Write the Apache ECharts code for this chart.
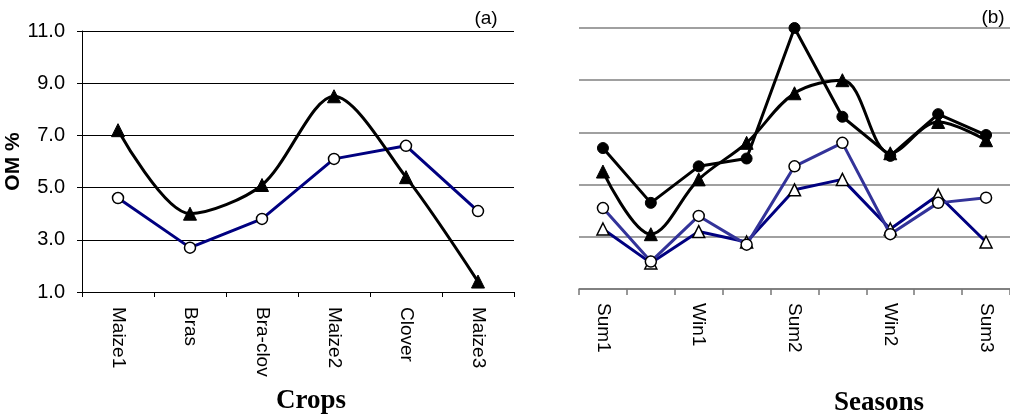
<!DOCTYPE html>
<html>
<head>
<meta charset="utf-8">
<script src="https://cdn.jsdelivr.net/npm/echarts@6/dist/echarts.min.js"></script>
<style>
  html, body { margin: 0; padding: 0; background: #ffffff; }
  #chart { width: 1010px; height: 415px; }
</style>
</head>
<body>
<div id="chart"></div>
<script>
// Panel (a): organic matter by crop
const crops = ['Maize1', 'Bras', 'Bra-clov', 'Maize2', 'Clover', 'Maize3'];
const cropTriangle = [7.2, 4.0, 5.1, 8.5, 5.4, 1.4];
const cropCircle = [4.6, 2.7, 3.8, 6.1, 6.6, 4.1];

// Panel (b): organic matter by season (only every other season is labelled)
const seasons = ['Sum1', '', 'Win1', '', 'Sum2', '', 'Win2', '', 'Sum3'];
const seasonDot = [6.4, 4.3, 5.7, 6.0, 11.0, 7.6, 6.1, 7.7, 6.9];
const seasonTriangle = [5.5, 3.1, 5.2, 6.6, 8.5, 9.0, 6.2, 7.4, 6.7];
const seasonOpenTriangle = [3.3, 2.0, 3.2, 2.8, 4.8, 5.2, 3.3, 4.6, 2.8];
const seasonCircle = [4.1, 2.05, 3.8, 2.7, 5.7, 6.6, 3.1, 4.3, 4.5];

const yTicks = { min: 1, max: 11, interval: 2 };
const FONT = 'Liberation Sans, Arial, sans-serif';
const SERIF = 'Liberation Serif, Times New Roman, serif';

const chart = echarts.init(document.getElementById('chart'), null, { renderer: 'canvas' });

const lineSeries = (xi, data, opt) => Object.assign({
  type: 'line',
  xAxisIndex: xi,
  yAxisIndex: xi,
  data: data,
  animation: false,
  silent: true
}, opt);

chart.setOption({
  backgroundColor: '#ffffff',
  animation: false,
  grid: [
    { left: 82, top: 31, width: 432, height: 261 },
    { left: 579, top: 28, width: 441, height: 261 }
  ],
  xAxis: [
    {
      type: 'category', gridIndex: 0, data: crops, boundaryGap: true,
      axisLine: { lineStyle: { color: '#000000', width: 1 } },
      axisTick: { show: true, interval: 0, length: 5, lineStyle: { color: '#000000' } },
      axisLabel: { interval: 0, rotate: -90, margin: 15, color: '#000000', fontSize: 19, fontFamily: FONT }
    },
    {
      type: 'category', gridIndex: 1, data: seasons, boundaryGap: true,
      axisLine: { lineStyle: { color: '#777777', width: 1.5 } },
      axisTick: { show: true, interval: 0, length: 6, lineStyle: { color: '#777777', width: 1.5 } },
      axisLabel: { interval: 0, rotate: -90, margin: 14, color: '#000000', fontSize: 19, fontFamily: FONT }
    }
  ],
  yAxis: [
    {
      type: 'value', gridIndex: 0, min: yTicks.min, max: yTicks.max, interval: yTicks.interval,
      name: 'OM %', nameLocation: 'middle', nameRotate: 90, nameGap: 53,
      nameTextStyle: { color: '#000000', fontSize: 21, fontWeight: 'bold', fontFamily: FONT },
      axisLine: { show: true, lineStyle: { color: '#000000', width: 1 } },
      axisTick: { show: true, length: 5, lineStyle: { color: '#000000' } },
      axisLabel: { margin: 17, color: '#000000', fontSize: 20, fontFamily: FONT, formatter: v => v.toFixed(1) },
      splitLine: { show: true, lineStyle: { color: '#000000', width: 1 } }
    },
    {
      type: 'value', gridIndex: 1, min: yTicks.min, max: yTicks.max, interval: yTicks.interval,
      axisLine: { show: false },
      axisTick: { show: false },
      axisLabel: { show: false },
      splitLine: { show: true, lineStyle: { color: '#808080', width: 1.5 } }
    }
  ],
  graphic: [
    { type: 'text', x: 486, y: 19, style: { text: '(a)', fontSize: 19, fontFamily: FONT, fill: '#000000', align: 'center', verticalAlign: 'middle' } },
    { type: 'text', x: 993, y: 18, style: { text: '(b)', fontSize: 19, fontFamily: FONT, fill: '#000000', align: 'center', verticalAlign: 'middle' } },
    { type: 'text', x: 311, y: 401, style: { text: 'Crops', fontSize: 27, fontWeight: 'bold', fontFamily: SERIF, fill: '#000000', align: 'center', verticalAlign: 'middle' } },
    { type: 'text', x: 879, y: 403, style: { text: 'Seasons', fontSize: 27, fontWeight: 'bold', fontFamily: SERIF, fill: '#000000', align: 'center', verticalAlign: 'middle' } }
  ],
  series: [
    lineSeries(0, cropCircle, {
      symbol: 'circle', symbolSize: 11, z: 2,
      lineStyle: { color: '#000080', width: 3 },
      itemStyle: { color: '#ffffff', borderColor: '#000000', borderWidth: 1.5 }
    }),
    lineSeries(0, cropTriangle, {
      symbol: 'triangle', symbolSize: 13, smooth: 0.3, z: 3,
      lineStyle: { color: '#000000', width: 3 },
      itemStyle: { color: '#000000', borderColor: '#000000', borderWidth: 1 }
    }),
    lineSeries(1, seasonOpenTriangle, {
      symbol: 'triangle', symbolSize: 12, z: 2,
      lineStyle: { color: '#000080', width: 3 },
      itemStyle: { color: '#ffffff', borderColor: '#000000', borderWidth: 1.5 }
    }),
    lineSeries(1, seasonCircle, {
      symbol: 'circle', symbolSize: 11, z: 3,
      lineStyle: { color: '#333399', width: 3 },
      itemStyle: { color: '#ffffff', borderColor: '#000000', borderWidth: 1.5 }
    }),
    lineSeries(1, seasonTriangle, {
      symbol: 'triangle', symbolSize: 13, smooth: 0.35, z: 4,
      lineStyle: { color: '#000000', width: 3 },
      itemStyle: { color: '#000000', borderColor: '#000000', borderWidth: 1 }
    }),
    lineSeries(1, seasonDot, {
      symbol: 'circle', symbolSize: 11, z: 5,
      lineStyle: { color: '#000000', width: 3 },
      itemStyle: { color: '#000000', borderColor: '#000000', borderWidth: 1 }
    })
  ]
});
</script>
</body>
</html>
